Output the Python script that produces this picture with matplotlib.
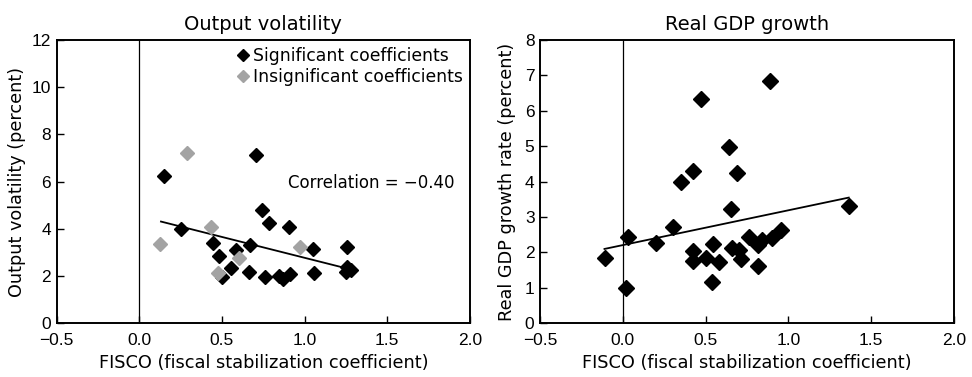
import matplotlib.pyplot as plt

plt.rcParams['font.family'] = ['DejaVu Sans']

# left panel: output volatility
sig_x = [0.149, 0.255, 0.707, 0.741, 0.787, 0.908, 0.446, 0.671, 0.586, 0.482,
         1.048, 1.259, 0.556, 0.661, 0.502, 0.761, 0.847, 0.871, 0.914, 1.058,
         1.259, 1.279, 1.249]
sig_y = [6.26, 4.00, 7.13, 4.80, 4.27, 4.10, 3.42, 3.32, 3.11, 2.85,
         3.15, 3.25, 2.33, 2.19, 1.98, 1.98, 2.00, 1.86, 2.09, 2.12,
         2.37, 2.26, 2.19]
insig_x = [0.289, 0.124, 0.432, 0.602, 0.476, 0.974]
insig_y = [7.23, 3.35, 4.10, 2.78, 2.15, 3.25]
vol_fit_x = [0.131, 1.229]
vol_fit_y = [4.31, 2.37]

# right panel: real GDP growth
gdp_x = [0.889, 0.473, 0.640, 0.423, 0.688, 0.352, 0.650, 1.364, 0.302, 0.034,
         0.201, 0.543, 0.423, 0.423, 0.503, 0.579, 0.660, 0.700, 0.714, 0.759,
         0.815, 0.841, 0.899, 0.952, 0.815, 0.537, 0.020, -0.105]
gdp_y = [6.85, 6.32, 4.99, 4.31, 4.25, 4.00, 3.23, 3.32, 2.71, 2.43,
         2.26, 2.24, 2.04, 1.77, 1.84, 1.72, 2.12, 2.07, 1.81, 2.45,
         2.21, 2.35, 2.40, 2.64, 1.63, 1.18, 1.01, 1.85]
gdp_fit_x = [-0.111, 1.364]
gdp_fit_y = [2.10, 3.55]

xticks = [-0.5, 0.0, 0.5, 1.0, 1.5, 2.0]
xticklabels = ['\u22120.5', '0.0', '0.5', '1.0', '1.5', '2.0']
gray = '#a3a3a3'
tick_font = ['Liberation Sans', 'DejaVu Sans']

fig = plt.figure(figsize=(9.72, 3.77), dpi=100)
ax1 = fig.add_axes([0.0583, 0.1424, 0.4252, 0.7515])
ax2 = fig.add_axes([0.5556, 0.1424, 0.4260, 0.7515])

ax1.plot(vol_fit_x, vol_fit_y, color='black', lw=1.3, zorder=2)
ax1.plot(sig_x, sig_y, 'D', color='black', ms=7.5, ls='none', zorder=3,
         label='Significant coefficients')
ax1.plot(insig_x, insig_y, 'D', color=gray, ms=7.5, ls='none', zorder=3,
         label='Insignificant coefficients')
ax1.text(0.9, 5.95, 'Correlation = \u22120.40', fontsize=12, va='center')
ax1.legend(loc='upper right', frameon=False, fontsize=12.4, handletextpad=0.1,
           borderaxespad=0.1, labelspacing=0.2, markerscale=0.75,
           borderpad=0.3, handlelength=1.0)
ax1.set_ylim(0, 12)
ax1.set_yticks(range(0, 13, 2))
ax1.set_title('Output volatility', fontsize=14, pad=7)
ax1.set_ylabel('Output volatility (percent)', fontsize=12.7, labelpad=4)

ax2.plot(gdp_fit_x, gdp_fit_y, color='black', lw=1.3, zorder=2)
ax2.plot(gdp_x, gdp_y, 'D', color='black', ms=8, ls='none', zorder=3)
ax2.set_ylim(0, 8)
ax2.set_yticks(range(0, 9))
ax2.set_title('Real GDP growth', fontsize=14, pad=7)
ax2.set_ylabel('Real GDP growth rate (percent)', fontsize=12.7, labelpad=6)

for ax in (ax1, ax2):
    ax.set_xlim(-0.5, 2.0)
    ax.set_xticks(xticks)
    ax.set_xticklabels(xticklabels)
    ax.axvline(0, color='black', lw=0.9, zorder=1)
    ax.tick_params(direction='in', length=5, width=1, pad=4)
    ax.tick_params(axis='x', pad=7)
    for lab in ax.get_xticklabels() + ax.get_yticklabels():
        lab.set_family(tick_font)
        lab.set_fontsize(12.5)
    ax.set_xlabel('FISCO (fiscal stabilization coefficient)', fontsize=12.8,
                  labelpad=4)
    for s in ax.spines.values():
        s.set_linewidth(1.4)

fig.savefig('out.png', dpi=100)
